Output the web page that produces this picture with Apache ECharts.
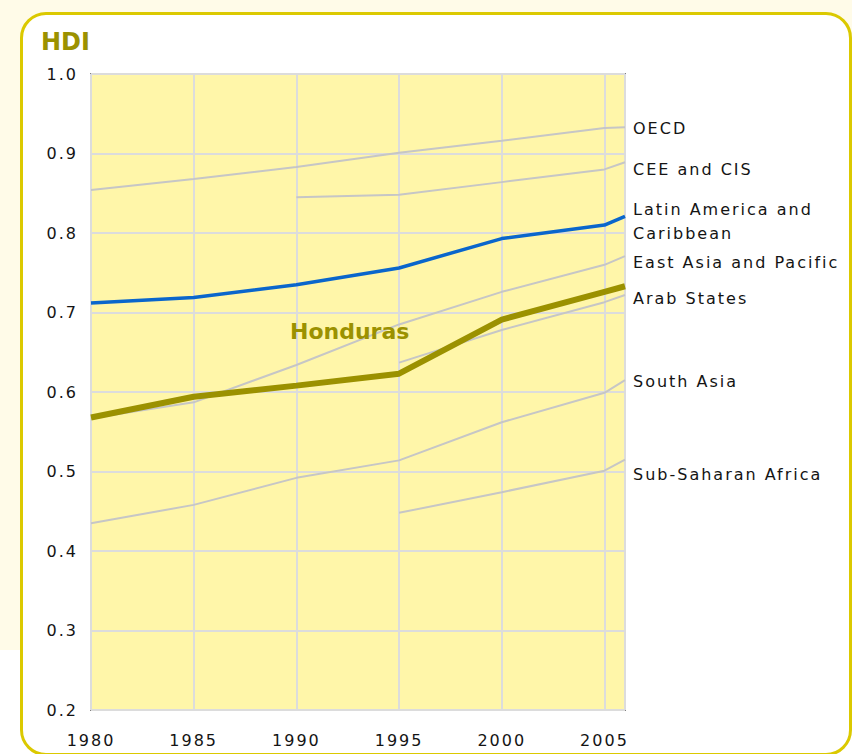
<!DOCTYPE html>
<html>
<head>
<meta charset="utf-8">
<title>HDI trends</title>
<script src="https://cdn.jsdelivr.net/npm/echarts@6/dist/echarts.min.js"></script>
<style>
  html, body {
    margin: 0;
    padding: 0;
    width: 852px;
    height: 754px;
    overflow: hidden;
    background: linear-gradient(to bottom, #fffbe8 0, #fffbe8 650px, #fff 650px);
  }
  .card {
    position: absolute;
    left: 20px;
    top: 12px;
    width: 826px;
    height: 738px;
    border: 3px solid #dbc900;
    border-radius: 26px;
    background: #fff;
  }
  #chart {
    position: absolute;
    left: 0;
    top: 0;
    width: 852px;
    height: 754px;
  }
  /* the old pixel font is widely spaced, the bold headings are not */
  #chart svg text { letter-spacing: 2px; }
  #chart svg text[style*="bold"] { letter-spacing: 0; }
</style>
</head>
<body>
<div class="card"></div>
<div id="chart"></div>
<script>
// years; the last point sits at the right edge of the plot
const years = [1980, 1985, 1990, 1995, 2000, 2005, 2006]

const oecd = [0.854, 0.868, 0.883, 0.901, 0.916, 0.932, 0.933]
const ceeCis = [null, null, 0.845, 0.848, 0.864, 0.880, 0.889]
const latinAmerica = [0.712, 0.719, 0.735, 0.756, 0.793, 0.810, 0.821]
const eastAsia = [0.567, 0.587, 0.634, 0.685, 0.726, 0.760, 0.771]
const arabStates = [null, null, null, 0.637, 0.678, 0.713, 0.722]
const southAsia = [0.435, 0.458, 0.492, 0.514, 0.562, 0.599, 0.615]
const subSaharan = [null, null, null, 0.448, 0.474, 0.501, 0.515]
const honduras = [0.568, 0.594, 0.608, 0.623, 0.691, 0.726, 0.733]

const regionNames = [
  'OECD',
  'CEE and CIS',
  'Latin America and\nCaribbean',
  'East Asia and Pacific',
  'Arab States',
  'South Asia',
  'Sub-Saharan Africa'
]
const countryName = 'Honduras'
const yTicks = { min: 0.2, max: 1.0, step: 0.1 }

const FONT = '"DejaVu Sans", Verdana, sans-serif'
const olive = '#9b9100'
const grey = '#c6c6c6'
const blue = '#0a66cc'
const ink = '#141414'

function pairs(values) {
  return years.map((y, i) => [y, values[i]]).filter(p => p[1] !== null)
}

function regionSeries(name, values, color, width, dy) {
  return {
    name: name,
    type: 'line',
    data: pairs(values),
    showSymbol: false,
    silent: true,
    z: color === grey ? 2 : 3,
    lineStyle: { color: color, width: width },
    endLabel: {
      show: true,
      formatter: name,
      distance: 8,
      offset: [0, dy],
      color: ink,
      fontSize: 16,
      fontFamily: FONT,
      lineHeight: 24
    }
  }
}

const chart = echarts.init(document.getElementById('chart'), null, { renderer: 'svg' })

chart.setOption({
  animation: false,
  backgroundColor: 'transparent',
  textStyle: { fontFamily: FONT },
  title: [
    {
      text: 'HDI',
      left: 41,
      top: 30,
      padding: 0,
      textStyle: { color: olive, fontSize: 24, fontWeight: 'bold', fontFamily: FONT }
    },
    {
      text: countryName,
      left: 290,
      top: 320,
      padding: 0,
      textStyle: { color: olive, fontSize: 22, fontWeight: 'bold', fontFamily: FONT }
    }
  ],
  grid: {
    left: 91,
    right: 227,
    top: 74,
    bottom: 44,
    show: true,
    backgroundColor: '#fff6a9',
    borderColor: '#808080',
    borderWidth: 2
  },
  xAxis: {
    type: 'value',
    min: 1980,
    max: 2006,
    interval: 5,
    axisLine: { show: false },
    axisTick: { show: false },
    axisLabel: {
      margin: 22,
      color: ink,
      fontSize: 16,
      fontFamily: FONT,
      formatter: v => (v % 5 === 0 ? String(v) : '')
    },
    splitLine: { lineStyle: { color: '#dcdcdc', width: 2 } }
  },
  yAxis: {
    type: 'value',
    min: yTicks.min,
    max: yTicks.max,
    interval: yTicks.step,
    axisLine: { show: false },
    axisTick: { show: false },
    axisLabel: {
      margin: 13,
      color: ink,
      fontSize: 16,
      fontFamily: FONT,
      formatter: v => v.toFixed(1)
    },
    splitLine: { lineStyle: { color: '#dcdcdc', width: 2 } }
  },
  series: [
    regionSeries(regionNames[0], oecd, grey, 2, 1),
    regionSeries(regionNames[1], ceeCis, grey, 2, 7),
    regionSeries(regionNames[3], eastAsia, grey, 2, 6),
    regionSeries(regionNames[4], arabStates, grey, 2, 3),
    regionSeries(regionNames[5], southAsia, grey, 2, 1),
    regionSeries(regionNames[6], subSaharan, grey, 2, 15),
    regionSeries(regionNames[2], latinAmerica, blue, 3.5, 5),
    {
      name: countryName,
      type: 'line',
      data: pairs(honduras),
      showSymbol: false,
      silent: true,
      z: 4,
      lineStyle: { color: olive, width: 6 }
    }
  ]
})
</script>
</body>
</html>
